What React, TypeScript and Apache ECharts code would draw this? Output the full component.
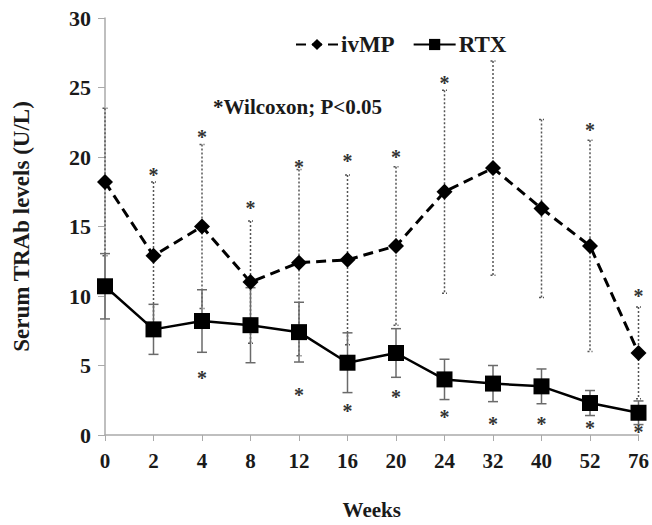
import React, { useEffect, useRef } from "react";
import * as echarts from "echarts";

const weeks = ["0", "2", "4", "8", "12", "16", "20", "24", "32", "40", "52", "76"];
const ivmpMean = [18.2, 12.9, 15.0, 11.0, 12.4, 12.6, 13.6, 17.5, 19.2, 16.3, 13.6, 5.9];
const ivmpSD = [5.3, 5.3, 5.9, 4.4, 6.7, 6.1, 5.7, 7.3, 7.7, 6.4, 7.6, 3.3];
const rtxMean = [10.7, 7.6, 8.2, 7.9, 7.4, 5.2, 5.9, 4.0, 3.7, 3.5, 2.3, 1.6];
const rtxSD = [2.35, 1.8, 2.25, 2.7, 2.15, 2.15, 1.75, 1.45, 1.3, 1.25, 0.9, 0.85];
const ivmpStarY: (number | null)[] = [null, 19.0, 21.7, 16.6, 19.6, 20.0, 20.3, 25.6, null, null, 22.2, 10.3];
const rtxStarY: (number | null)[] = [null, null, 4.4, null, 3.2, 2.0, 3.0, 1.6, 1.1, 1.1, 0.8, 0.5];
const yTicks = { min: 0, max: 30, interval: 5 };

const FONT = "'Liberation Serif', 'Times New Roman', serif";
const TXT = "#1a1a1a";

function errorSeries(name: string, mean: number[], sd: number[], color: string, dash: any, width: number, cap: number) {
  return {
    type: "custom",
    name,
    z: 1,
    silent: true,
    data: mean.map((m, i) => [i, m - sd[i], m + sd[i]]),
    renderItem: (params: any, api: any) => {
      const i = api.value(0);
      const hi = api.coord([i, api.value(2)]);
      const lo = api.coord([i, api.value(1)]);
      const style = { stroke: color, lineWidth: width, lineDash: dash };
      return {
        type: "group",
        children: [
          { type: "line", shape: { x1: hi[0], y1: hi[1], x2: lo[0], y2: lo[1] }, style },
          { type: "line", shape: { x1: hi[0] - cap, y1: hi[1], x2: hi[0] + cap, y2: hi[1] }, style },
          { type: "line", shape: { x1: lo[0] - cap, y1: lo[1], x2: lo[0] + cap, y2: lo[1] }, style },
        ],
      };
    },
  };
}

function starSeries(name: string, ys: (number | null)[]) {
  const data: number[][] = [];
  ys.forEach((v, i) => {
    if (v !== null) data.push([i, v]);
  });
  return {
    type: "custom",
    name,
    z: 3,
    silent: true,
    data,
    renderItem: (params: any, api: any) => {
      const p = api.coord([api.value(0), api.value(1)]);
      return {
        type: "text",
        style: {
          text: "*",
          x: p[0],
          y: p[1] + 4,
          align: "center",
          verticalAlign: "middle",
          font: `bold 20px ${FONT}`,
          fill: "#333",
        },
      };
    },
  };
}

export default function App() {
  const ref = useRef<HTMLDivElement>(null);
  useEffect(() => {
    if (!ref.current) return;
    const chart = echarts.init(ref.current, null, { renderer: "svg" });
    chart.setOption({
      animation: false,
      backgroundColor: "#ffffff",
      grid: { left: 105, right: 12, top: 18, bottom: 82, containLabel: false },
      legend: {
        data: ["ivMP", "RTX"],
        top: 28,
        left: 290,
        itemWidth: 42,
        itemHeight: 14,
        itemGap: 18,
        textStyle: { fontFamily: FONT, fontWeight: "bold", fontSize: 23, color: TXT, padding: [0, 0, 0, -2] },
      },
      graphic: [
        {
          type: "text",
          left: 213,
          top: 96,
          style: { text: "*Wilcoxon; P<0.05", font: `bold 21px ${FONT}`, fill: TXT },
        },
      ],
      xAxis: {
        type: "category",
        data: weeks,
        boundaryGap: false,
        axisLine: { lineStyle: { color: "#aaaaaa", width: 1.5 } },
        axisTick: { show: true, length: 6, lineStyle: { color: "#aaaaaa" } },
        axisLabel: { fontFamily: FONT, fontWeight: "bold", fontSize: 21, color: TXT, margin: 15 },
        name: "Weeks",
        nameLocation: "middle",
        nameGap: 64,
        nameTextStyle: { fontFamily: FONT, fontWeight: "bold", fontSize: 21, color: TXT },
      },
      yAxis: {
        type: "value",
        min: yTicks.min,
        max: yTicks.max,
        interval: yTicks.interval,
        splitLine: { show: false },
        axisLine: { show: true, lineStyle: { color: "#aaaaaa", width: 1.5 } },
        axisTick: { show: true, length: 7, lineStyle: { color: "#aaaaaa" } },
        axisLabel: { fontFamily: FONT, fontWeight: "bold", fontSize: 22, color: TXT, margin: 14 },
        name: "Serum TRAb levels (U/L)",
        nameLocation: "middle",
        nameGap: 72,
        nameTextStyle: { fontFamily: FONT, fontWeight: "bold", fontSize: 23, color: TXT },
      },
      series: [
        errorSeries("ivmpErr", ivmpMean, ivmpSD, "#555555", [2, 2], 1.5, 2.5),
        errorSeries("rtxErr", rtxMean, rtxSD, "#6a6a6a", null, 1.5, 5),
        {
          name: "ivMP",
          type: "line",
          z: 2,
          data: ivmpMean,
          symbol: "diamond",
          symbolSize: 16,
          itemStyle: { color: "#000000" },
          lineStyle: { color: "#000000", width: 3, type: [10, 6] },
        },
        {
          name: "RTX",
          type: "line",
          z: 2,
          data: rtxMean,
          symbol: "rect",
          symbolSize: 16,
          itemStyle: { color: "#000000" },
          lineStyle: { color: "#000000", width: 2.5 },
        },
        starSeries("ivmpStar", ivmpStarY),
        starSeries("rtxStar", rtxStarY),
      ],
    });
    return () => chart.dispose();
  }, []);
  return (
    <div
      ref={ref}
      style={{ position: "fixed", left: 0, top: 0, width: 652, height: 525 }}
    />
  );
}
